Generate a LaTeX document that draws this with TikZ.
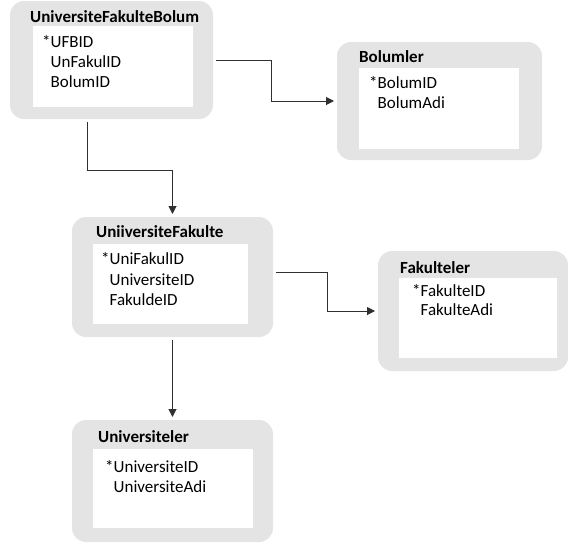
\documentclass[tikz,border=0pt]{standalone}
\usepackage{fontspec}
\setmainfont{Carlito}
\usetikzlibrary{arrows.meta}
\definecolor{frame}{HTML}{E4E4E4}
\definecolor{link}{HTML}{303030}
\tikzset{
  tableframe/.style={fill=frame, draw=none, rounded corners=14pt, inner sep=0pt, outer sep=3pt},
  tablebody/.style={fill=white, draw=none, inner sep=0pt},
  tabletitle/.style={anchor=base west, inner sep=0pt, font=\fontsize{17}{20}\selectfont\bfseries},
  tablefield/.style={anchor=base west, inner sep=0pt, font=\fontsize{17}{20}\selectfont},
  relation/.style={draw=link, line width=1pt, -{Triangle[length=8pt,width=8pt]}}
}
\newcommand{\nokey}{\phantom{*}}
\begin{document}
\begin{tikzpicture}[x=1pt, y=-1pt]
  \useasboundingbox (0,0) rectangle (568,547);

  % UniversiteFakulteBolum
  \node[tableframe, minimum width=203pt, minimum height=118pt] (ufb) at (111.5,60) {};
  \node[tablebody, minimum width=160pt, minimum height=81pt] (ufbb) at (113,66.5) {};
  \node[tabletitle] (ufbt) at (30,22.5) {UniversiteFakulteBolum};
  \node[tablefield] (ufb1) at (42,47.5) {*UFBID};
  \node[tablefield] (ufb2) at (42,67.5) {\nokey UnFakulID};
  \node[tablefield] (ufb3) at (42,87.5) {\nokey BolumID};

  % Bolumler
  \node[tableframe, minimum width=205pt, minimum height=118pt] (bol) at (439.5,101) {};
  \node[tablebody, minimum width=160pt, minimum height=81pt] (bolb) at (439,108.5) {};
  \node[tabletitle] (bolt) at (359,62.5) {Bolumler};
  \node[tablefield] (bol1) at (369,88.5) {*BolumID};
  \node[tablefield] (bol2) at (369,108.5) {\nokey BolumAdi};

  % UniiversiteFakulte
  \node[tableframe, minimum width=201pt, minimum height=120pt] (uf) at (172.5,277) {};
  \node[tablebody, minimum width=155pt, minimum height=80pt] (ufbody) at (170.5,284) {};
  \node[tabletitle] (uft) at (96,237.5) {UniiversiteFakulte};
  \node[tablefield] (uf1) at (101,264.5) {*UniFakulID};
  \node[tablefield] (uf2) at (101,285) {\nokey UniversiteID};
  \node[tablefield] (uf3) at (101,305.5) {\nokey FakuldeID};

  % Fakulteler
  \node[tableframe, minimum width=190pt, minimum height=120pt] (fak) at (473,311) {};
  \node[tablebody, minimum width=158pt, minimum height=80pt] (fakb) at (478,318) {};
  \node[tabletitle] (fakt) at (400,273.5) {Fakulteler};
  \node[tablefield] (fak1) at (412,296.5) {*FakulteID};
  \node[tablefield] (fak2) at (412,315.5) {\nokey FakulteAdi};

  % Universiteler
  \node[tableframe, minimum width=201pt, minimum height=122pt] (uni) at (172.5,481) {};
  \node[tablebody, minimum width=160pt, minimum height=79pt] (unib) at (173,488.5) {};
  \node[tabletitle] (unit) at (98,442.5) {Universiteler};
  \node[tablefield] (uni1) at (105,472.5) {*UniversiteID};
  \node[tablefield] (uni2) at (105,492.5) {\nokey UniversiteAdi};

  % relations
  \draw[relation] (ufb.east) -- ++(55,0) |- (bol.west);
  \draw[relation] ([xshift=-24.5pt]ufb.south) -- ++(0,48) -| (uf.north);
  \draw[relation] ([yshift=5pt]uf.east) -- ++(51,0) |- (fak.west);
  \draw[relation] (uf.south) -- (uni.north);
\end{tikzpicture}
\end{document}
